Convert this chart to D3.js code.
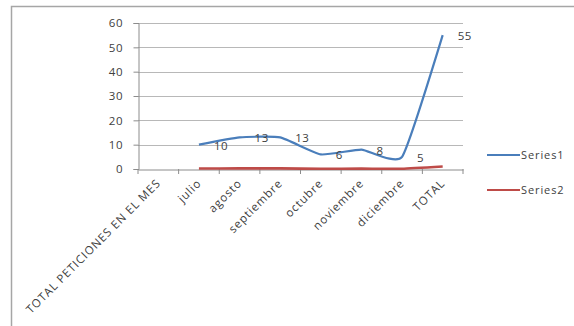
<!DOCTYPE html>
<html><head><meta charset="utf-8">
<script src="https://cdn.jsdelivr.net/npm/d3@7"></script>
<style>html,body{margin:0;padding:0;background:#fff;}svg{display:block;}</style>
</head><body>
<svg id="chart" width="574" height="326"></svg>
<script>
const categories = ["TOTAL PETICIONES EN EL MES","julio","agosto","septiembre","octubre","noviembre","diciembre","TOTAL"];
const series1 = [null,10,13,13,6,8,5,55];
const series2 = [null,0.18,0.24,0.24,0.11,0.15,0.09,1];
const seriesNames = ["Series1","Series2"];
const yTicks = [0,10,20,30,40,50,60];
const colors = ["#4a7ebb","#be4b48"];

const svg = d3.select("#chart");
const font = "'Open Sans', 'Liberation Sans', sans-serif";
const txt = "#404040";

// outer border
svg.append("rect").attr("x",11.5).attr("y",6.5).attr("width",600).attr("height",400)
  .attr("fill","none").attr("stroke","#a6a6a6").attr("stroke-width",1.5);

const m = {left:138, right:463, top:23, bottom:169};
const x = d3.scaleBand().domain(categories).range([m.left,m.right]).padding(0);
const y = d3.scaleLinear().domain([0,60]).range([m.bottom,m.top]);

// gridlines
svg.append("g").selectAll("line").data(yTicks.filter(d=>d>0)).join("line")
  .attr("x1",m.left).attr("x2",m.right).attr("y1",d=>Math.round(y(d))+0.5).attr("y2",d=>Math.round(y(d))+0.5)
  .attr("stroke","#b8b8b8").attr("stroke-width",1);

// y axis
const ya = svg.append("g").attr("transform",`translate(${m.left+0.5},0)`)
  .call(d3.axisLeft(y).tickValues(yTicks).tickSize(5).tickPadding(10));
ya.select(".domain").attr("stroke","#8c8c8c");
ya.selectAll(".tick line").attr("stroke","#8c8c8c");
ya.selectAll(".tick text").attr("font-family",font).attr("font-size",11.5).attr("letter-spacing",0.8).attr("fill",txt);

// x axis
const xa = svg.append("g").attr("transform",`translate(0,${m.bottom+0.5})`)
  .call(d3.axisBottom(x).tickSize(0).tickFormat(""));
xa.select(".domain").attr("stroke","#8c8c8c");
svg.append("g").selectAll("line").data(categories.concat(["__end"])).join("line")
  .attr("x1",(d,i)=>m.left+i*x.bandwidth()).attr("x2",(d,i)=>m.left+i*x.bandwidth())
  .attr("y1",m.bottom).attr("y2",m.bottom+5).attr("stroke","#8c8c8c");
svg.append("g").selectAll("text").data(categories).join("text")
  .attr("transform",d=>`translate(${x(d)+x.bandwidth()/2+3},${m.bottom+15}) rotate(-45)`)
  .attr("text-anchor","end").attr("font-family",font).attr("font-size",11.5).attr("letter-spacing",0.9).attr("fill",txt)
  .text(d=>d);

// lines
const line = d3.line().defined(d=>d.v!=null).x(d=>x(d.c)+x.bandwidth()/2).y(d=>y(d.v)).curve(d3.curveCardinal.tension(0.55));
[series1,series2].forEach((s,i)=>{
  const data = categories.map((c,j)=>({c, v:s[j]}));
  svg.append("path").datum(data).attr("d",line).attr("fill","none")
    .attr("stroke",colors[i]).attr("stroke-width",i===0?2.2:2.6).attr("stroke-linejoin","round");
});

// data labels for series1
svg.append("g").selectAll("text").data(categories.map((c,j)=>({c,v:series1[j]})).filter(d=>d.v!=null)).join("text")
  .attr("x",d=>x(d.c)+x.bandwidth()/2+15).attr("y",d=>y(d.v)+1).attr("dy","0.35em")
  .attr("font-family",font).attr("font-size",11.5).attr("letter-spacing",0.5).attr("fill",txt).text(d=>d.v);

// legend
const lg = svg.append("g");
seriesNames.forEach((n,i)=>{
  const ly = 155 + i*35;
  lg.append("line").attr("x1",487).attr("x2",520).attr("y1",ly).attr("y2",ly)
    .attr("stroke",colors[i]).attr("stroke-width",2);
  lg.append("text").attr("x",521).attr("y",ly).attr("dy","0.35em")
    .attr("font-family",font).attr("font-size",11).attr("letter-spacing",0.9).attr("fill",txt).text(n);
});
</script>
</body></html>
